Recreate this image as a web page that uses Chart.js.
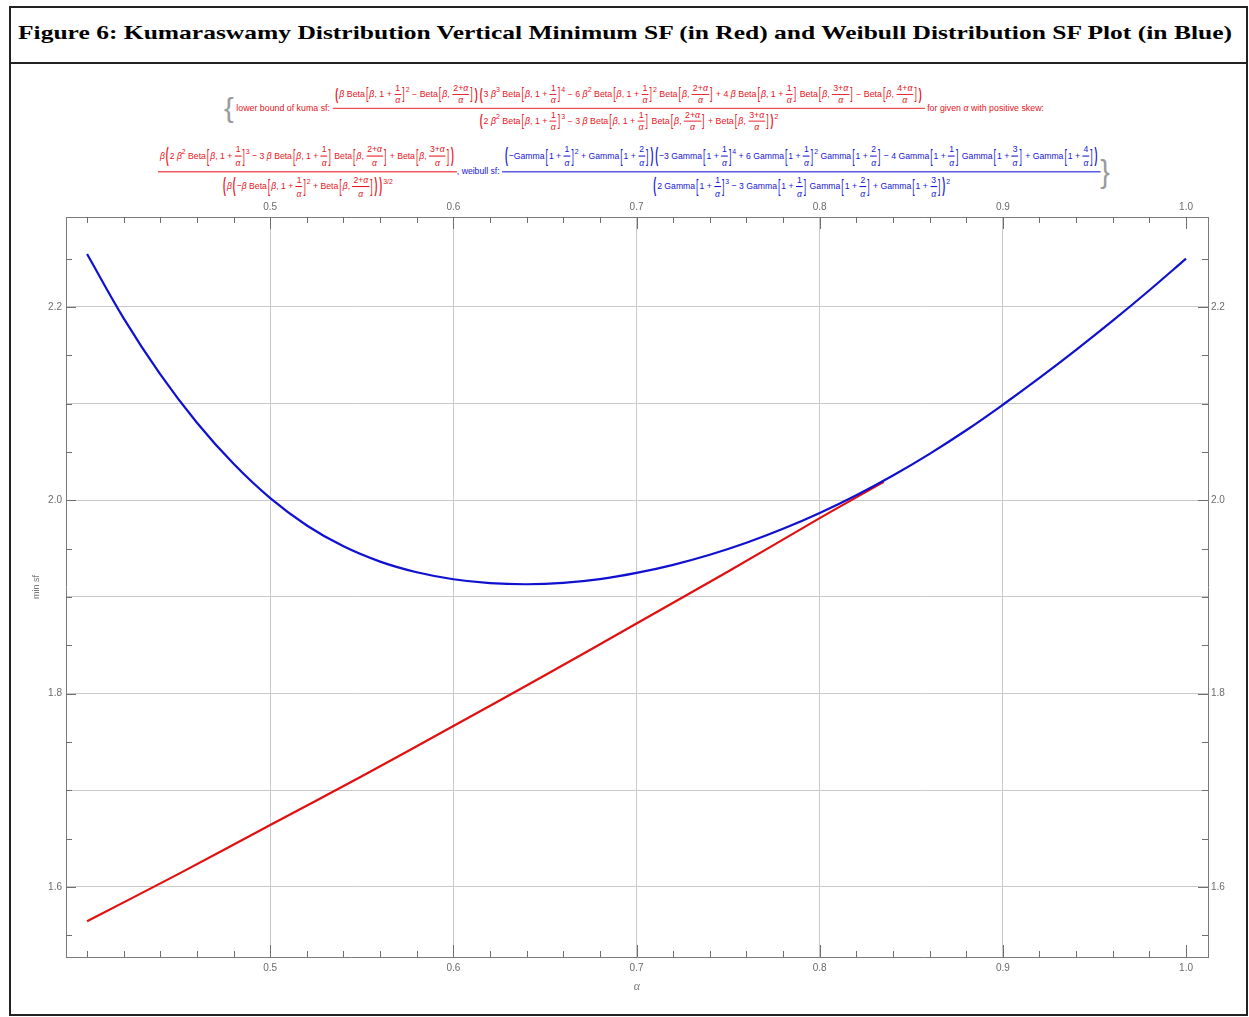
<!DOCTYPE html>
<html>
<head>
<meta charset="utf-8">
<title>Kumaraswamy and Weibull SF</title>
<script src="https://cdn.jsdelivr.net/npm/chart.js@4.4.1/dist/chart.umd.min.js"></script>
<style>
  html, body { margin: 0; padding: 0; background: #fff; }
  body { width: 1249px; height: 1017px; position: relative; overflow: hidden;
         font-family: "Liberation Sans", Arial, sans-serif; }
  #frame { position: absolute; left: 9px; top: 6px; width: 1239px; height: 1010px;
           box-sizing: border-box; border: 2px solid #222; }
  #head { position: absolute; left: 9px; top: 6px; width: 1239px; height: 58px;
          box-sizing: border-box; border-bottom: 2px solid #222; }
  #title { position: absolute; left: 18px; top: 22px; white-space: nowrap; transform-origin: 0 50%;
           font: bold 19.5px "Liberation Serif", "Times New Roman", serif; color: #000; }
  .row { position: absolute; display: flex; align-items: center; white-space: nowrap;
         font-size: 9px; line-height: 1.15; transform-origin: 0 0; }
  .red { color: #e8141c; }
  .blue { color: #1616d6; }
  .fr { display: inline-flex; flex-direction: column; align-items: center; vertical-align: middle; }
  .fr > .nu { border-bottom: 1px solid currentColor; padding: 0 1px 1px; }
  .fr > .de { padding: 1px 1px 0; }
  .big > .nu { border-bottom-width: 1.5px; padding: 0 2px 2px; }
  .big > .de { padding-top: 2px; }
  .bk { display: inline-block; transform: scaleY(2.0); margin: 0 1px; }
  .pa { display: inline-block; transform: scaleY(2.1); font-weight: bold; margin: 0 1px; }
  sup { font-size: 0.8em; line-height: 0; vertical-align: 0.7em; }
  .brace { color: #9a9a9a; font-size: 30px; font-weight: 300; line-height: 1; }
  #chartBox { position: absolute; left: 12px; top: 188px; width: 1233px; height: 820px; }
</style>
</head>
<body>
<div id="frame"></div>
<div id="head"></div>
<div id="title">Figure 6: Kumaraswamy Distribution Vertical Minimum SF (in Red) and Weibull Distribution SF Plot (in Blue)</div>
<div id="row1" class="row"></div>
<div id="row2" class="row"></div>
<div id="chartBox"><canvas id="chart"></canvas></div>

<script>
// shape parameter α sampled for the Weibull curve
const alphaWeibull = [0.40, 0.42, 0.44, 0.46, 0.48, 0.50, 0.52, 0.54, 0.56, 0.58,
                      0.60, 0.62, 0.64, 0.66, 0.68, 0.70, 0.72, 0.74, 0.76, 0.78,
                      0.80, 0.82, 0.84, 0.86, 0.88, 0.90, 0.92, 0.94, 0.96, 0.98, 1.00];
const weibullSF = [2.2547, 2.1882, 2.1302, 2.0802, 2.0377, 2.0022, 1.9739, 1.9523, 1.9365, 1.9255,
                   1.9183, 1.9143, 1.9131, 1.9145, 1.9184, 1.9248, 1.9332, 1.9436, 1.9560, 1.9704,
                   1.9868, 2.0052, 2.0256, 2.0480, 2.0724, 2.0988, 2.1265, 2.1555, 2.1857, 2.2172, 2.2500];

// lower bound of the Kumaraswamy shape factor
const alphaKuma = [0.40, 0.45, 0.50, 0.55, 0.60, 0.65, 0.70, 0.75, 0.80, 0.82, 0.835];
const kumaMinSF = [1.5645, 1.6135, 1.6640, 1.7145, 1.7665, 1.8190, 1.8725, 1.9263, 1.9815, 2.0030, 2.0190];

// axis ranges, labels, tick marks and grid lines
const xRange = [0.3885, 1.012];
const yRange = [1.5275, 2.293];
const xTickLabels = [0.5, 0.6, 0.7, 0.8, 0.9, 1.0];
const xTickMarks = [0.40, 0.42, 0.44, 0.46, 0.48, 0.50, 0.52, 0.54, 0.56, 0.58, 0.60, 0.62, 0.64,
                    0.66, 0.68, 0.70, 0.72, 0.74, 0.76, 0.78, 0.80, 0.82, 0.84, 0.86, 0.88, 0.90,
                    0.92, 0.94, 0.96, 0.98, 1.00];
const xGridLines = [0.5, 0.6, 0.7, 0.8, 0.9];
const yTickLabels = [1.6, 1.8, 2.0, 2.2];
const yTickMarks = [1.55, 1.60, 1.65, 1.70, 1.75, 1.80, 1.85, 1.90, 1.95, 2.00, 2.05, 2.10, 2.15, 2.20, 2.25];
const yGridLines = [1.6, 1.7, 1.8, 1.9, 2.0, 2.1, 2.2];

const xLabel = 'α';
const yLabel = 'min sf';

// ---------- title: stretched across the header width ----------
(function stretchTitle() {
  const el = document.getElementById('title');
  const target = 1214;
  const natural = el.getBoundingClientRect().width;
  el.style.transform = `scaleX(${target / natural})`;
})();

// ---------- formula header ----------
const A = '<i>α</i>', Bt = '<i>β</i>';
const fr = (n, d, cls = '') => `<span class="fr ${cls}"><span class="nu">${n}</span><span class="de">${d}</span></span>`;
const sq = x => `<span class="bk">[</span>${x}<span class="bk">]</span>`;
const pa = x => `<span class="pa">(</span>${x}<span class="pa">)</span>`;
const sup = x => `<sup>${x}</sup>`;
const inv = k => fr(String(k), A);
const kPlus = k => fr(`${k}+${A}`, A);
const beta1 = `Beta${sq(`${Bt}, 1 + ${inv(1)}`)}`;
const betaK = k => `Beta${sq(`${Bt}, ${kPlus(k)}`)}`;
const gam = k => `Gamma${sq(`1 + ${inv(k)}`)}`;
const span = (cls, html) => `<span class="${cls}">${html}</span>`;

const skewCore = `2 ${Bt}${sup(2)} ${beta1}${sup(3)} − 3 ${Bt} ${beta1} ${betaK(2)} + ${betaK(3)}`;

const kumaLowerNum = pa(`${Bt} ${beta1}${sup(2)} − ${betaK(2)}`) +
  pa(`3 ${Bt}${sup(3)} ${beta1}${sup(4)} − 6 ${Bt}${sup(2)} ${beta1}${sup(2)} ${betaK(2)} + 4 ${Bt} ${beta1} ${betaK(3)} − ${betaK(4)}`);
const kumaLowerDen = pa(skewCore) + sup(2);

const kumaSkewNum = `${Bt}` + pa(skewCore);
const kumaSkewDen = pa(`${Bt}` + pa(`−${Bt} ${beta1}${sup(2)} + ${betaK(2)}`)) + sup('3/2');

const weibNum = pa(`−${gam(1)}${sup(2)} + ${gam(2)}`) +
  pa(`−3 ${gam(1)}${sup(4)} + 6 ${gam(1)}${sup(2)} ${gam(2)} − 4 ${gam(1)} ${gam(3)} + ${gam(4)}`);
const weibDen = pa(`2 ${gam(1)}${sup(3)} − 3 ${gam(1)} ${gam(2)} + ${gam(3)}`) + sup(2);

document.getElementById('row1').innerHTML =
  span('brace', '{') +
  span('red', '&nbsp;lower bound of kuma sf:&nbsp;') +
  span('red', fr(kumaLowerNum, kumaLowerDen, 'big')) +
  span('red', '&nbsp;for given ' + A + ' with positive skew:');
document.getElementById('row2').innerHTML =
  span('red', fr(kumaSkewNum, kumaSkewDen, 'big')) +
  span('blue', ', weibull sf:&nbsp;') +
  span('blue', fr(weibNum, weibDen, 'big')) +
  span('brace', '}');

function fitRow(id, left, top, w, h) {
  const el = document.getElementById(id);
  const r = el.getBoundingClientRect();
  el.style.left = left + 'px';
  el.style.top = top + 'px';
  el.style.transform = `scale(${w / r.width}, ${h / r.height})`;
}
fitRow('row1', 224, 84, 820, 48);
fitRow('row2', 158, 144, 952, 55);

// ---------- chart ----------
const near = (list, v) => list.some(t => Math.abs(t - v) < 1e-9);

const innerTicks = {
  id: 'innerTicks',
  afterDraw(chart) {
    const { ctx, chartArea: a, scales: { x, y } } = chart;
    ctx.save();
    ctx.strokeStyle = '#6e6e6e';
    ctx.lineWidth = 1;
    ctx.beginPath();
    xTickMarks.forEach(v => {
      const px = Math.round(x.getPixelForValue(v)) + 0.5;
      const len = near(xTickLabels, v) ? 12 : 6;
      ctx.moveTo(px, a.bottom); ctx.lineTo(px, a.bottom - len);
      ctx.moveTo(px, a.top); ctx.lineTo(px, a.top + len);
    });
    yTickMarks.forEach(v => {
      const py = Math.round(y.getPixelForValue(v)) + 0.5;
      const len = near(yTickLabels, v) ? 10 : 6;
      ctx.moveTo(a.left, py); ctx.lineTo(a.left + len, py);
      ctx.moveTo(a.right, py); ctx.lineTo(a.right - len, py);
    });
    ctx.stroke();
    ctx.restore();
  }
};

const tickFont = { family: '"Liberation Sans", Arial, sans-serif', size: 10 };
const tickColor = '#6a6a6a';
const frameBorder = { display: true, color: '#7a7a7a', width: 1 };

const xTicks = scale => { scale.ticks = xTickLabels.map(v => ({ value: v })); };
const yTicks = scale => { scale.ticks = yGridLines.map(v => ({ value: v })); };
const yLabelCb = v => near(yTickLabels, v) ? v.toFixed(1) : '';

new Chart(document.getElementById('chart'), {
  type: 'line',
  data: {
    datasets: [
      {
        label: 'weibull sf',
        data: alphaWeibull.map((a, i) => ({ x: a, y: weibullSF[i] })),
        borderColor: '#1010d0',
        borderWidth: 2.2,
        pointRadius: 0,
        tension: 0.4,
        order: 0
      },
      {
        label: 'lower bound of kuma sf',
        data: alphaKuma.map((a, i) => ({ x: a, y: kumaMinSF[i] })),
        borderColor: '#e01010',
        borderWidth: 2.2,
        pointRadius: 0,
        tension: 0.4,
        order: 1
      }
    ]
  },
  options: {
    responsive: true,
    maintainAspectRatio: false,
    animation: false,
    layout: { padding: 0 },
    plugins: { legend: { display: false }, tooltip: { enabled: false } },
    scales: {
      x: {
        type: 'linear', position: 'bottom', min: xRange[0], max: xRange[1],
        afterBuildTicks: xTicks,
        afterFit: s => { s.height = 51; },
        border: frameBorder,
        grid: { drawTicks: false,
                color: c => (c.tick && near(xGridLines, c.tick.value)) ? '#c9c9c9' : 'rgba(0,0,0,0)',
                lineWidth: 1 },
        ticks: { font: tickFont, color: tickColor, padding: 5, maxRotation: 0,
                 callback: v => v.toFixed(1) },
        title: { display: true, text: xLabel, color: '#777',
                 font: { family: '"Liberation Serif", serif', size: 12, style: 'italic' },
                 padding: { top: 0, bottom: 14 } }
      },
      x2: {
        type: 'linear', position: 'top', min: xRange[0], max: xRange[1],
        afterBuildTicks: xTicks,
        afterFit: s => { s.height = 29; },
        border: frameBorder,
        grid: { display: false, drawTicks: false },
        ticks: { font: tickFont, color: tickColor, padding: 4, maxRotation: 0,
                 callback: v => v.toFixed(1) }
      },
      y: {
        type: 'linear', position: 'left', min: yRange[0], max: yRange[1],
        afterBuildTicks: yTicks,
        afterFit: s => { s.width = 54; },
        border: frameBorder,
        grid: { drawTicks: false, color: '#c9c9c9', lineWidth: 1 },
        ticks: { font: tickFont, color: tickColor, padding: 4, callback: yLabelCb },
        title: { display: true, text: yLabel, color: '#777',
                 font: { family: '"Liberation Sans", Arial, sans-serif', size: 9 },
                 padding: { top: 19, bottom: 0 } }
      },
      y2: {
        type: 'linear', position: 'right', min: yRange[0], max: yRange[1],
        afterBuildTicks: yTicks,
        afterFit: s => { s.width = 37; },
        border: frameBorder,
        grid: { display: false, drawTicks: false },
        ticks: { font: tickFont, color: tickColor, padding: 3, callback: yLabelCb }
      }
    }
  },
  plugins: [innerTicks]
});
</script>
</body>
</html>
